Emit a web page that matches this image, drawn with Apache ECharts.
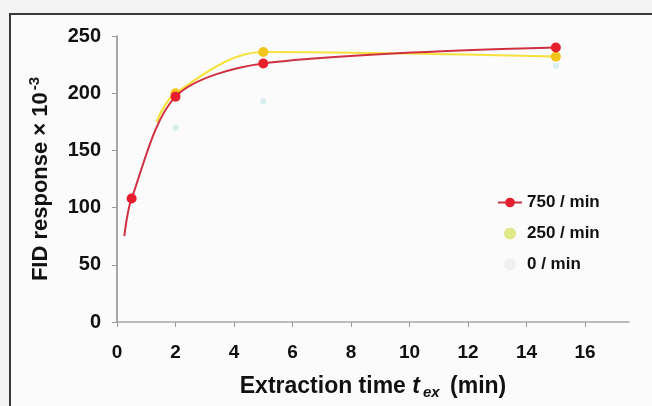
<!DOCTYPE html>
<html>
<head>
<meta charset="utf-8">
<script src="https://cdn.jsdelivr.net/npm/echarts@6/dist/echarts.min.js"></script>
<style>
html,body{margin:0;padding:0;background:#f3f3f3;}
#c{width:652px;height:406px;}
</style>
</head>
<body>
<div id="c"></div>
<script>
// Data
const xTicks = [0, 2, 4, 6, 8, 10, 12, 14, 16];
const yTicks = [0, 50, 100, 150, 200, 250];

const names = ['750 / min', '250 / min', '0 / min'];

const x750 = [0.25, 0.5, 2, 5, 15];
const y750 = [75, 108, 197, 226, 240];

const x250 = [1.35, 2, 5, 15];
const y250 = [175, 200, 236, 232];

const x0 = [2, 5, 15];
const y0 = [170, 193, 224];

const pairs = (xs, ys) => xs.map((x, i) => [x, ys[i]]);

const FONT = '"Liberation Sans", Arial, sans-serif';

const chart = echarts.init(document.getElementById('c'), null, {renderer: 'canvas'});

const d750 = pairs(x750, y750).map((p, i) => i === 0 ? {value: p, symbol: 'none'} : p);
const d250 = pairs(x250, y250).map((p, i) => i === 0 ? {value: p, symbol: 'none'} : p);

chart.setOption({
  backgroundColor: '#f3f3f3',
  animation: false,
  graphic: [
    {type: 'rect', shape: {x: 10, y: 14, width: 700, height: 450},
     style: {fill: '#fbfbfb', stroke: '#3a3a3a', lineWidth: 2}, z: -10, silent: true}
  ],
  grid: {left: 117, right: 23, top: 36, bottom: 84, containLabel: false, outerBoundsMode: 'none'},
  xAxis: {
    type: 'value', min: 0, max: 17.5, interval: 2,
    axisLine: {lineStyle: {color: '#a8a8a8', width: 1.5}},
    axisTick: {show: true, length: 5, lineStyle: {color: '#999'}},
    splitLine: {show: false},
    axisLabel: {
      showMaxLabel: false, margin: 21,
      fontFamily: FONT, fontWeight: 'bold', fontSize: 19, color: '#111',
      formatter: v => xTicks.includes(v) ? String(v) : ''
    },
    name: '{a|Extraction time }{t|t}{s|ex}{a| (min)}',
    nameLocation: 'middle', nameGap: 52,
    nameTextStyle: {
      rich: {
        a: {fontFamily: FONT, fontWeight: 'bold', fontSize: 23, color: '#111', lineHeight: 26},
        t: {fontFamily: FONT, fontWeight: 'bold', fontStyle: 'italic', fontSize: 23, color: '#111', lineHeight: 26, padding: [0, 3, 0, 0]},
        s: {fontFamily: FONT, fontWeight: 'bold', fontStyle: 'italic', fontSize: 15, color: '#111', lineHeight: 26, padding: [12, 4, 0, 0]}
      }
    }
  },
  yAxis: {
    type: 'value', min: 0, max: 250, interval: 50,
    axisLine: {show: true, lineStyle: {color: '#8a8a8a', width: 1.5}},
    axisTick: {show: true, length: 5, lineStyle: {color: '#999'}},
    splitLine: {show: false},
    axisLabel: {
      margin: 16,
      fontFamily: FONT, fontWeight: 'bold', fontSize: 20, color: '#111',
      formatter: v => yTicks.includes(v) ? String(v) : ''
    },
    name: '{a|FID response × 10}{sup|-3}',
    nameLocation: 'middle', nameGap: 63, nameRotate: 90,
    nameTextStyle: {
      rich: {
        a: {fontFamily: FONT, fontWeight: 'bold', fontSize: 22, color: '#111', lineHeight: 26},
        sup: {fontFamily: FONT, fontWeight: 'bold', fontSize: 15, color: '#111', lineHeight: 26, padding: [0, 0, 12, 2]}
      }
    }
  },
  legend: {
    orient: 'vertical', left: 492, top: 189,
    itemWidth: 24, itemHeight: 12, itemGap: 14,
    textStyle: {fontFamily: FONT, fontWeight: 'bold', fontSize: 17, color: '#111'},
    data: [
      {name: names[0]},
      {name: names[1], icon: 'circle', itemStyle: {color: '#dfe98a'}},
      {name: names[2], icon: 'circle', itemStyle: {color: '#f0f0f0'}}
    ]
  },
  series: [
    {
      name: names[2], type: 'line', data: pairs(x0, y0),
      symbol: 'circle', symbolSize: 6,
      itemStyle: {color: 'rgba(150,210,215,0.35)'},
      lineStyle: {width: 0, opacity: 0}, z: 1
    },
    {
      name: names[1], type: 'line', data: d250, smooth: 0.35,
      symbol: 'circle', symbolSize: 10,
      itemStyle: {color: '#f2c51c'},
      lineStyle: {color: '#f6e23c', width: 2.2}, z: 2
    },
    {
      name: names[0], type: 'line', data: d750, smooth: 0.3,
      symbol: 'circle', symbolSize: 10,
      itemStyle: {color: '#e51f2d'},
      lineStyle: {color: '#cf3042', width: 2}, z: 3
    }
  ]
});
</script>
</body>
</html>
